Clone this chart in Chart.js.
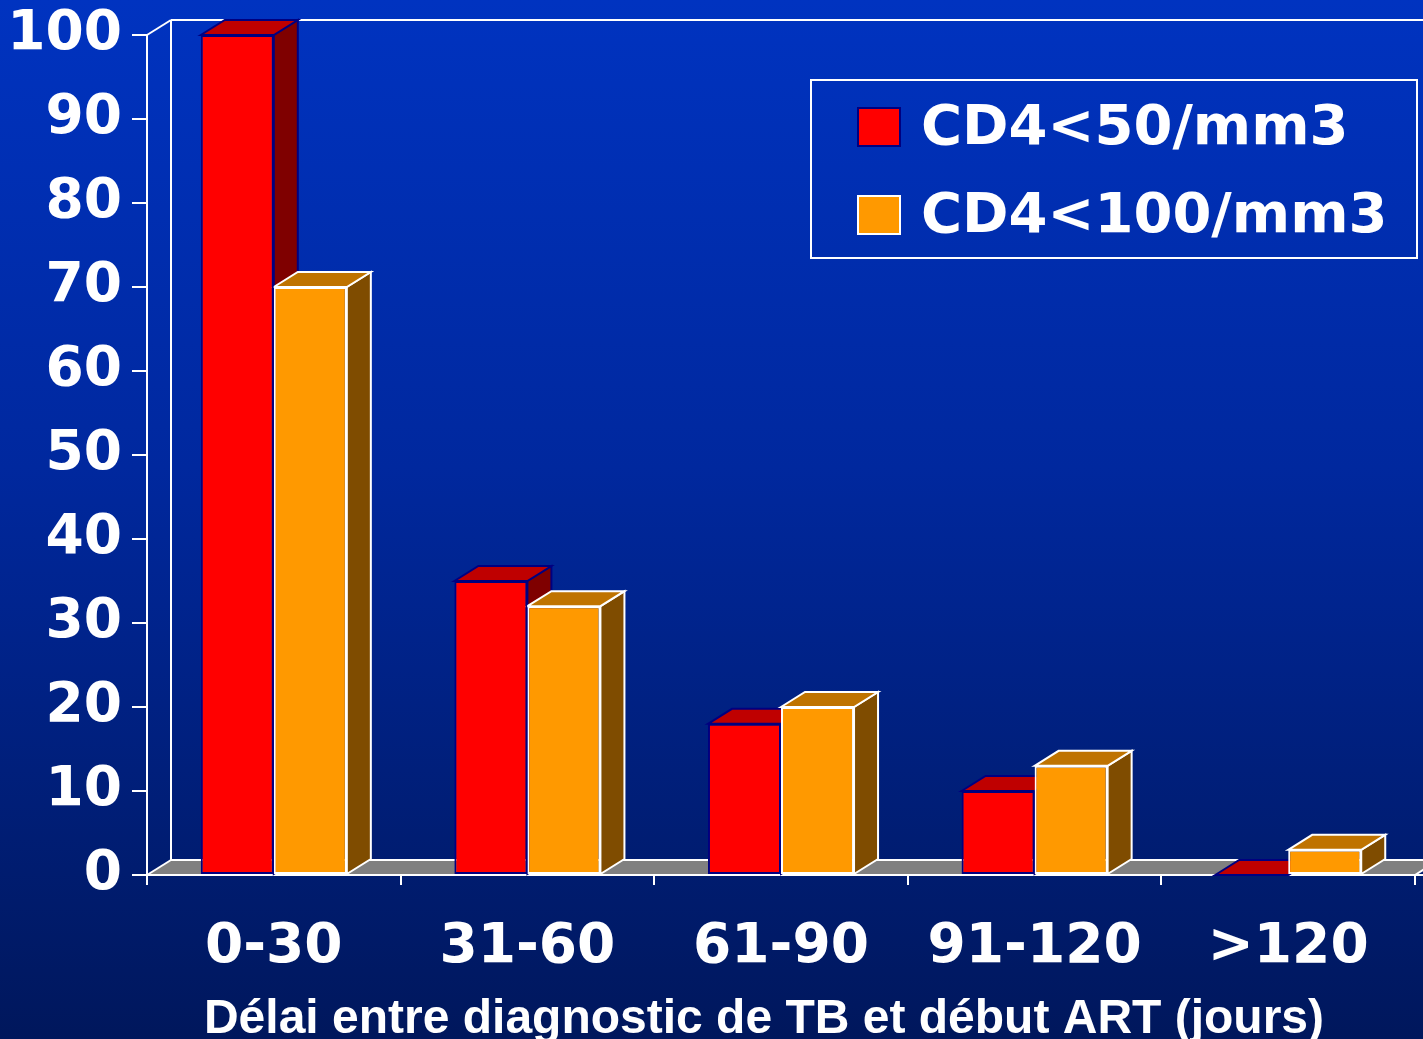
<!DOCTYPE html>
<html>
<head>
<meta charset="utf-8">
<script src="https://cdn.jsdelivr.net/npm/chart.js@4.4.1/dist/chart.umd.min.js"></script>
<style>
  html, body { margin: 0; padding: 0; background: #001a66; overflow: hidden; }
  canvas { display: block; }
</style>
</head>
<body>
<canvas id="chart" width="1423" height="1039"></canvas>
<script>
// Délai entre diagnostic de TB et début ART, par seuil de CD4 (%)
const categories = ['0-30', '31-60', '61-90', '91-120', '>120'];
const seriesNames = ['CD4<50/mm3', 'CD4<100/mm3'];
const cd4Under50 = [100, 35, 18, 10, 0];
const cd4Under100 = [70, 32, 20, 13, 3];
const yTicks = [0, 10, 20, 30, 40, 50, 60, 70, 80, 90, 100];
const axisTitle = 'Délai entre diagnostic de TB et début ART (jours)';

const FONT = "'DejaVu Sans', 'Liberation Sans', Arial, sans-serif";
const TITLE_FONT = "'Liberation Sans', Arial, sans-serif";
const DEPTH_X = 24, DEPTH_Y = -15;

// face colours for each series: front, top, side, outline
const faces = [
  { front: '#ff0000', top: '#bf0000', side: '#7f0000', edge: '#000080' },
  { front: '#ff9900', top: '#bf7300', side: '#7f4c00', edge: '#ffffff' }
];

function poly(ctx, pts, fill, stroke, lw) {
  ctx.beginPath();
  ctx.moveTo(pts[0][0], pts[0][1]);
  for (let i = 1; i < pts.length; i++) ctx.lineTo(pts[i][0], pts[i][1]);
  ctx.closePath();
  if (fill) { ctx.fillStyle = fill; ctx.fill(); }
  if (stroke) { ctx.strokeStyle = stroke; ctx.lineWidth = lw || 2; ctx.lineJoin = 'miter'; ctx.stroke(); }
}
function line(ctx, x1, y1, x2, y2) {
  ctx.beginPath(); ctx.moveTo(x1, y1); ctx.lineTo(x2, y2); ctx.stroke();
}

const backdrop = {
  id: 'backdrop',
  beforeDraw(chart) {
    const { ctx, width, height } = chart;
    const g = ctx.createLinearGradient(0, 0, 0, height);
    g.addColorStop(0, '#0033c0');
    g.addColorStop(0.45, '#00289e');
    g.addColorStop(1, '#00175c');
    ctx.save();
    ctx.fillStyle = g;
    ctx.fillRect(0, 0, width, height);
    ctx.restore();
  }
};

const frame3d = {
  id: 'frame3d',
  beforeDatasetsDraw(chart) {
    const { ctx, chartArea, scales } = chart;
    const left = chartArea.left, right = chartArea.right;
    const base = scales.y.getPixelForValue(0);
    const top = scales.y.getPixelForValue(100);
    ctx.save();
    // floor
    poly(ctx, [[left, base], [right, base], [right + DEPTH_X, base + DEPTH_Y], [left + DEPTH_X, base + DEPTH_Y]], '#808080', null);
    ctx.strokeStyle = '#ffffff';
    ctx.lineWidth = 2;
    line(ctx, left + DEPTH_X, base + DEPTH_Y, right + DEPTH_X, base + DEPTH_Y);
    line(ctx, left, base, right + 8, base);
    line(ctx, right, base, right + DEPTH_X, base + DEPTH_Y);
    // back wall and left wall edges
    line(ctx, left + DEPTH_X, base + DEPTH_Y, left + DEPTH_X, top + DEPTH_Y);
    line(ctx, left + DEPTH_X, top + DEPTH_Y, chart.width, top + DEPTH_Y);
    line(ctx, left, top, left + DEPTH_X, top + DEPTH_Y);
    line(ctx, left, base, left + DEPTH_X, base + DEPTH_Y);
    line(ctx, left, top, left, base);

    // side and top faces of every bar, series in order so later bars overlap earlier ones
    chart.data.datasets.forEach((ds, di) => {
      const meta = chart.getDatasetMeta(di);
      const f = faces[di];
      meta.data.forEach(bar => {
        const x0 = bar.x - bar.width / 2, x1 = bar.x + bar.width / 2;
        const yt = bar.y, yb = bar.base;
        // side
        poly(ctx, [[x1, yt], [x1 + DEPTH_X, yt + DEPTH_Y], [x1 + DEPTH_X, yb + DEPTH_Y], [x1, yb]], f.side, f.edge, 2);
        // top
        poly(ctx, [[x0, yt], [x0 + DEPTH_X, yt + DEPTH_Y], [x1 + DEPTH_X, yt + DEPTH_Y], [x1, yt]], f.top, f.edge, 2);
      });
    });
    ctx.restore();
  }
};

// legend box in the upper right and the axis caption under the category labels
const annotations = {
  id: 'annotations',
  afterDraw(chart) {
    const { ctx } = chart;
    ctx.save();
    ctx.strokeStyle = '#ffffff';
    ctx.lineWidth = 2;
    ctx.strokeRect(811, 80, 606, 178);
    const rows = [127, 215];
    chart.data.datasets.forEach((ds, i) => {
      const f = faces[i];
      ctx.fillStyle = f.front;
      ctx.fillRect(858, rows[i] - 19, 42, 38);
      ctx.strokeStyle = f.edge;
      ctx.lineWidth = 2;
      ctx.strokeRect(858, rows[i] - 19, 42, 38);
      ctx.fillStyle = '#ffffff';
      ctx.font = 'bold 56px ' + FONT;
      ctx.textAlign = 'left';
      ctx.textBaseline = 'middle';
      ctx.fillText(ds.label, 921, rows[i] + 2);
    });
    ctx.fillStyle = '#ffffff';
    ctx.font = 'bold 48px ' + TITLE_FONT;
    ctx.textAlign = 'center';
    ctx.textBaseline = 'alphabetic';
    ctx.fillText(axisTitle, 764, 1033);
    ctx.restore();
  }
};

new Chart(document.getElementById('chart'), {
  type: 'bar',
  data: {
    labels: categories,
    datasets: [
      { label: seriesNames[0], data: cd4Under50, backgroundColor: faces[0].front, borderColor: faces[0].edge, borderWidth: 2, borderSkipped: false },
      { label: seriesNames[1], data: cd4Under100, backgroundColor: faces[1].front, borderColor: faces[1].edge, borderWidth: 2, borderSkipped: false }
    ]
  },
  options: {
    responsive: false,
    animation: false,
    events: [],
    layout: { padding: { top: 35, right: 8, left: 0, bottom: 0 } },
    datasets: { bar: { categoryPercentage: 0.576, barPercentage: 1.0 } },
    plugins: { legend: { display: false }, tooltip: { enabled: false }, title: { display: false } },
    scales: {
      x: {
        offset: true,
        border: { display: false },
        grid: { display: true, drawOnChartArea: false, offset: true, tickLength: 10, color: '#ffffff', lineWidth: 2 },
        ticks: { color: '#ffffff', font: { family: FONT, size: 55, weight: 'bold' }, padding: 30, maxRotation: 0 },
        title: { display: false },
        afterFit(scale) { scale.height = 164; scale.paddingLeft = 0; scale.paddingRight = 0; }
      },
      y: {
        min: 0, max: 100,
        border: { display: false },
        grid: { display: true, drawOnChartArea: false, tickLength: 15, color: '#ffffff', lineWidth: 2 },
        afterBuildTicks(scale) { scale.ticks = yTicks.map(v => ({ value: v })); },
        ticks: { color: '#ffffff', font: { family: FONT, size: 55, weight: 'bold' }, padding: 10 },
        afterFit(scale) { scale.width = 147; scale.paddingTop = 0; scale.paddingBottom = 0; }
      }
    }
  },
  plugins: [backdrop, frame3d, annotations]
});
</script>
</body>
</html>
